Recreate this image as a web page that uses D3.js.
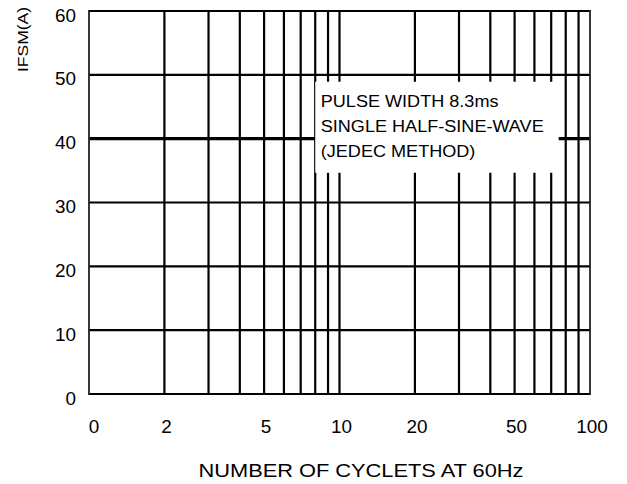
<!DOCTYPE html>
<html>
<head>
<meta charset="utf-8">
<script src="https://cdn.jsdelivr.net/npm/d3@7"></script>
<style>
  html, body { margin: 0; padding: 0; background: #fff; }
  text { font-family: "Liberation Sans", Arial, sans-serif; fill: #000; }
</style>
</head>
<body>
<svg id="chart" width="627" height="484"></svg>
<script>
// ---- data ----
const xGridValues = [1, 2, 3, 4, 5, 6, 7, 8, 9, 10, 20, 30, 40, 50, 60, 70, 80, 90, 100];
const xTickValues = [1, 2, 5, 10, 20, 50, 100];
const xTickLabels = ["0", "2", "5", "10", "20", "50", "100"];
const yGridValues = [0, 10, 20, 30, 40, 50, 60];
const yTickLabels = ["0", "10", "20", "30", "40", "50", "60"];
const noteLines = ["PULSE WIDTH 8.3ms", "SINGLE HALF-SINE-WAVE", "(JEDEC METHOD)"];
const xTitle = "NUMBER OF CYCLETS AT 60Hz";
const yTitle = "IFSM(A)";

(function () {
// ---- layout ----
const svg = d3.select("#chart");
const mLeft = 89, mRight = 590, mTop = 11, mBottom = 394;
const x = d3.scaleLog().domain([1, 100]).range([mLeft, mRight]);
const y = d3.scaleLinear().domain([0, 60]).range([mBottom, mTop]);

const grid = svg.append("g");

// vertical grid lines
grid.selectAll("line.v")
  .data(xGridValues.filter(v => v !== 1 && v !== 100))
  .join("line")
  .attr("class", "v")
  .attr("x1", d => x(d)).attr("x2", d => x(d))
  .attr("y1", y(0)).attr("y2", y(60))
  .attr("stroke", "#000").attr("stroke-width", 2.2);

// horizontal grid lines
grid.selectAll("line.h")
  .data(yGridValues)
  .join("line")
  .attr("class", "h")
  .attr("x1", x(1)).attr("x2", x(100))
  .attr("y1", d => y(d)).attr("y2", d => y(d))
  .attr("stroke", "#000")
  .attr("stroke-width", d => d === 40 ? 3.2 : 2.2);

// left/right frame
grid.selectAll("line.f")
  .data([1, 100])
  .join("line")
  .attr("class", "f")
  .attr("x1", d => x(d)).attr("x2", d => x(d))
  .attr("y1", y(0) + 1).attr("y2", y(60) - 1)
  .attr("stroke", "#222").attr("stroke-width", 1.8);

// ---- note box ----
const noteG = svg.append("g");
const noteRect = noteG.append("rect").attr("fill", "#fff");
const noteX = x(8) + 5.5;
const noteY = y(45);
const sxNote = 1.11;
const noteText = noteG.append("g")
  .attr("transform", `translate(${noteX},${noteY}) scale(${sxNote},1)`);
noteText.selectAll("text")
  .data(noteLines)
  .join("text")
  .attr("x", 0)
  .attr("y", (d, i) => i * 25)
  .attr("font-size", 16.3)
  .text(d => d);
const bb = noteText.node().getBBox();
const bx1 = noteX + (bb.x + bb.width) * sxNote;
noteRect
  .attr("x", x(8))
  .attr("y", noteY - 25)
  .attr("width", bx1 + 15 - x(8))
  .attr("height", 91);

// ---- tick labels ----
const sxTick = 1.05;
svg.append("g").selectAll("text")
  .data(yGridValues)
  .join("text")
  .attr("transform", d => `translate(76,${y(d) + 10.5}) scale(${sxTick},1)`)
  .attr("text-anchor", "end")
  .attr("font-size", 18)
  .text((d, i) => yTickLabels[i]);

svg.append("g").selectAll("text")
  .data(xTickValues)
  .join("text")
  .attr("transform", d => `translate(${x(d) + (d === 1 ? 5 : 2)},${y(0) + 39}) scale(${sxTick},1)`)
  .attr("text-anchor", "middle")
  .attr("font-size", 18)
  .text((d, i) => xTickLabels[i]);

// ---- axis titles ----
svg.append("text")
  .attr("transform", `translate(361,476.5) scale(1.16,1)`)
  .attr("text-anchor", "middle")
  .attr("font-size", 18.8)
  .text(xTitle);

svg.append("text")
  .attr("transform", `translate(28,39.5) rotate(-90) scale(1.13,1)`)
  .attr("text-anchor", "middle")
  .attr("font-size", 15.5)
  .text(yTitle);
})();
</script>
</body>
</html>
